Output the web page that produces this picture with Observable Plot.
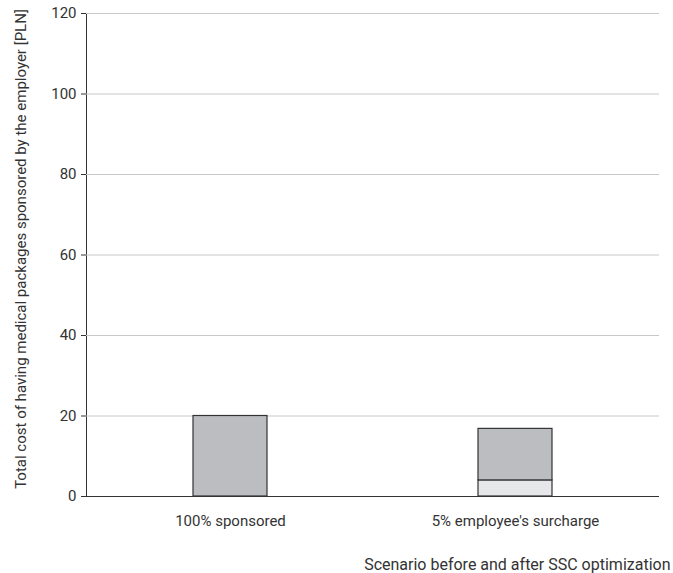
<!DOCTYPE html>
<html>
<head>
<meta charset="utf-8">
<script src="https://cdn.jsdelivr.net/npm/d3@7"></script>
<script src="https://cdn.jsdelivr.net/npm/@observablehq/plot@0.6"></script>
<style>
  body { margin: 0; background: #fff; }
</style>
</head>
<body>
<div id="chart"></div>
<script>
const categories = ["100% sponsored", "5% employee's surcharge"];
const components = ["Employee surcharge", "Employer cost"];
const surchargeValues = [0, 4];
const employerValues = [20, 12.8];
const yTicks = [0, 20, 40, 60, 80, 100, 120];
const xTitle = "Scenario before and after SSC optimization";
const yTitle = "Total cost of having medical packages sponsored by the employer [PLN]";

const data = [];
categories.forEach((c, i) => {
  data.push({scenario: c, component: components[0], value: surchargeValues[i]});
  data.push({scenario: c, component: components[1], value: employerValues[i]});
});

const chart = Plot.plot({
  width: 673,
  height: 573,
  marginLeft: 86,
  marginRight: 14,
  marginTop: 13,
  marginBottom: 77,
  style: {fontSize: "15px", fontFamily: "Roboto, sans-serif", color: "#333"},
  x: {
    domain: categories,
    paddingInner: 0.74,
    paddingOuter: 0.375,
    tickSize: 0,
    tickPadding: 19,
    label: null
  },
  y: {
    domain: [0, 120],
    ticks: yTicks,
    tickSize: 5,
    tickPadding: 5,
    line: true,
    label: null
  },
  color: {domain: components, range: ["#e6e7e8", "#bcbdc1"]},
  marks: [
    Plot.gridY(yTicks, {stroke: "#c8c8c8", strokeOpacity: 1}),
    Plot.barY(data, Plot.stackY({
      x: "scenario",
      y: "value",
      fill: "component",
      order: components,
      stroke: "#333",
      strokeWidth: 1.2
    })),
    Plot.ruleY([0], {stroke: "#333", strokeWidth: 1.2}),
    Plot.text([xTitle], {
      frameAnchor: "bottom-right",
      textAnchor: "end",
      lineAnchor: "middle",
      dx: 11,
      dy: 68,
      fontSize: 16,
      fill: "#333"
    }),
    Plot.text([yTitle], {
      frameAnchor: "left",
      textAnchor: "middle",
      lineAnchor: "middle",
      rotate: -90,
      dx: -65,
      dy: -6,
      fontSize: 15,
      fill: "#333"
    })
  ]
});
document.getElementById("chart").appendChild(chart);
</script>
</body>
</html>
